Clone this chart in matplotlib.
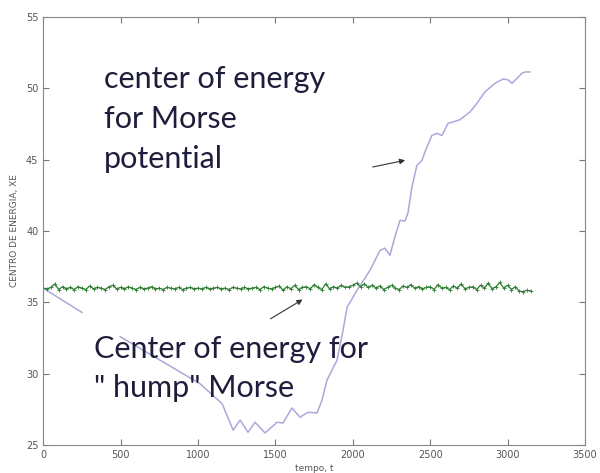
import matplotlib
matplotlib.use("Agg")
import matplotlib.pyplot as plt
import numpy as np

# blue curve: Morse potential (gap where the pasted label covers it)
morse_t = [0, 250, 375, 497, 1013, 1156, 1227, 1272, 1323, 1369, 1433, 1511, 1549,
           1607, 1659, 1711, 1769, 1801, 1833, 1898, 1937, 1963, 2027, 2111, 2176,
           2208, 2240, 2272, 2305, 2337, 2356, 2382, 2414, 2447, 2466, 2511, 2544,
           2576, 2615, 2647, 2692, 2757, 2802, 2853, 2918, 2970, 3002, 3028, 3060,
           3092, 3112, 3144]
morse_xe = [36.0, 34.3, np.nan, 32.6, 29.3, 27.9, 26.05, 26.75, 25.9, 26.6, 25.85, 26.6,
            26.55, 27.6, 26.95, 27.3, 27.25, 28.15, 29.55, 30.95, 33.05, 34.65, 35.85,
            37.25, 38.65, 38.8, 38.3, 39.6, 40.75, 40.7, 41.25, 43.1, 44.6, 44.95,
            45.55, 46.7, 46.85, 46.7, 47.55, 47.65, 47.8, 48.35, 48.95, 49.75, 50.35,
            50.65, 50.6, 50.35, 50.7, 51.05, 51.15, 51.15]

# green curve: "hump" Morse, sampled every 25 time units
hump_t = np.arange(0, 3151, 25)
hump_xe = [36.0, 35.95, 36.05, 36.3, 35.9, 36.1, 35.95, 36.05, 35.9, 36.1,
           36.0, 35.9, 36.15, 35.95, 36.05, 36.0, 35.9, 36.1, 36.2, 35.95,
           36.05, 35.95, 36.1, 36.0, 35.9, 36.05, 35.95, 36.0, 36.1, 35.95,
           36.0, 35.9, 36.05, 36.0, 35.95, 36.05, 35.9, 36.0, 36.05, 35.95,
           36.0, 35.95, 36.05, 35.95, 36.0, 36.05, 35.95, 36.0, 35.9, 36.05,
           36.0, 35.95, 36.05, 35.95, 36.0, 36.05, 35.9, 36.1, 36.0, 35.95,
           36.05, 36.15, 35.85, 36.1, 35.95, 36.2, 35.9, 36.05, 36.1, 35.95,
           36.25, 36.05, 35.9, 36.3, 35.95, 36.1, 36.0, 36.2, 36.05, 36.1,
           36.2, 36.35, 36.1, 36.3, 36.05, 36.2, 36.0, 36.15, 35.9, 36.05,
           36.2, 36.0, 35.9, 36.15, 36.05, 36.25, 36.0, 36.1, 35.95, 36.05,
           36.1, 35.9, 36.25, 36.0, 36.05, 35.9, 36.15, 36.0, 36.3, 35.95,
           36.05, 36.1, 35.9, 36.2, 36.0, 36.35, 35.95, 36.1, 36.4, 36.0,
           36.2, 35.9, 36.1, 35.8, 35.75, 35.85, 35.8]

xticks = [0, 500, 1000, 1500, 2000, 2500, 3000, 3500]
yticks = [25, 30, 35, 40, 45, 50, 55]

fig = plt.figure(figsize=(6, 4.73), dpi=100)
ax = fig.add_axes([0.072, 0.059, 0.903, 0.905])

ax.plot(morse_t, morse_xe, color="#a9a9dc", lw=1.1)
ax.plot(hump_t, hump_xe, color="#2e7d32", lw=0.9, marker="+", ms=3, mew=0.6)

ax.set_xlim(0, 3500)
ax.set_ylim(25, 55)
ax.set_xticks(xticks)
ax.set_yticks(yticks)
ax.tick_params(direction="in", top=True, right=True, length=4, labelsize=7,
               labelcolor="#555555", color="#777777")
for s in ax.spines.values():
    s.set_color("#888888")

ax.set_ylabel("CENTRO DE ENERGIA, XE", fontsize=6.5, color="#555555")
ax.yaxis.set_label_coords(-0.045, 0.5)
ax.set_xlabel("tempo, t", fontsize=6.5, color="#555555")
ax.xaxis.set_label_coords(0.5, -0.045)

txt = dict(fontsize=22, color="#1e1e3c", family=["Lato", "DejaVu Sans"], linespacing=1.52)
ax.text(390, 51.65, "center of energy\nfor Morse\npotential", va="top", **txt)
ax.text(325, 32.75, "Center of energy for\n\" hump\" Morse", va="top", **txt)

ax.annotate("", xy=(2356, 45.0), xytext=(2111, 44.45),
            arrowprops=dict(arrowstyle="-|>", color="#333333", lw=0.8, mutation_scale=8))
ax.annotate("", xy=(1691, 35.3), xytext=(1453, 33.75),
            arrowprops=dict(arrowstyle="-|>", color="#333333", lw=0.8, mutation_scale=8))

fig.savefig("out.png", dpi=100)
